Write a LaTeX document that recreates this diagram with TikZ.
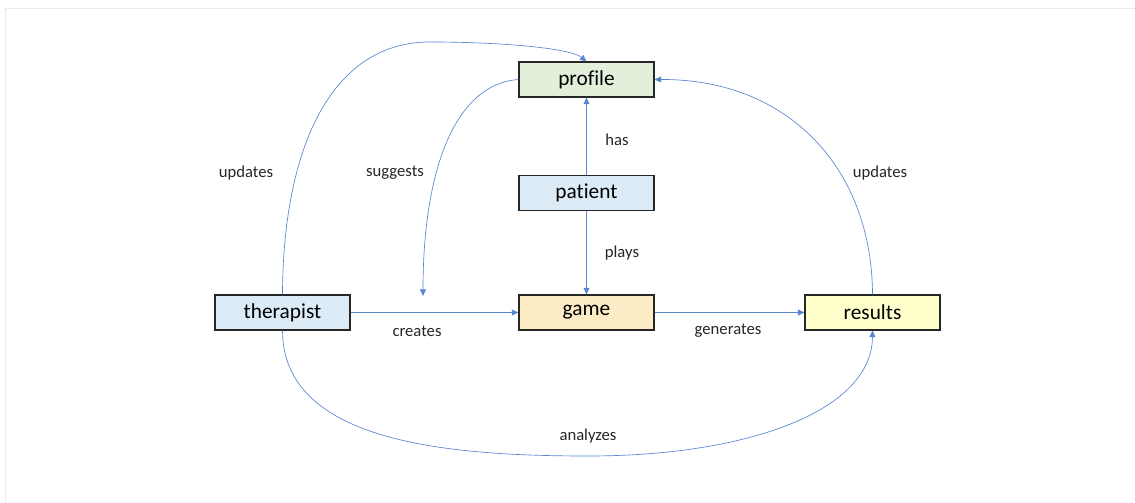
\documentclass[tikz,border=0pt]{standalone}
\usepackage{fontspec}
\setmainfont{Carlito}[Ligatures={NoCommon}]
\usepackage{tikz}
\usetikzlibrary{arrows.meta,positioning}
\definecolor{linkblue}{HTML}{5B86CF}
\definecolor{profgreen}{HTML}{E2EFDA}
\definecolor{persblue}{HTML}{DDEBF7}
\definecolor{gameorange}{HTML}{FCEBC4}
\definecolor{resyellow}{HTML}{FFFFCC}
\tikzset{
	entity/.style={draw=black!85, line width=0.8pt, minimum width=101.25pt, minimum height=26.25pt, inner sep=0pt, font=\fontsize{16}{18}\selectfont},
	rel/.style={font=\fontsize{12.5}{14}\selectfont, text=black!85}
}

\begin{document}
\begin{tikzpicture}[x=0.75pt, y=-0.75pt, ->, >={Triangle[length=5pt,width=4.5pt]}, line width=0.5pt]
	\useasboundingbox (0,0) rectangle (1135,503);
	\draw[-, black!8] (5,503) -- (5,8) -- (1135,8);
	\node [entity, fill=profgreen] (profile) at (586.5,79.5) {profile};
	\node [entity, fill=persblue] (patient) at (586.5,193) {patient};
	\node [entity, fill=gameorange] (game) at (586.5,312.5) {game};
	\node [entity, fill=persblue] (therapist) at (282.5,312.5) {therapist};
	\node [entity, fill=resyellow] (results) at (872.5,312.5) {results};
	\coordinate (sugg) at (423,296);
	\node [rel] (updl) at (246,173) {updates};
	\node [rel] (suggests) at (395,173) {suggests};
	\node [rel] (has) at (617,140) {has};
	\node [rel] (plays) at (622,253) {plays};
	\node [rel] (creates) at (417,331) {creates};
	\node [rel] (generates) at (728,331) {generates};
	\node [rel] (updr) at (880,173) {updates};
	\node [rel] (analyzes) at (588,436) {analyzes};
	\draw[linkblue] (patient) -- (profile);
	\draw[linkblue] (patient) -- (game);
	\draw[linkblue] (therapist) -- (game);
	\draw[linkblue] (game) -- (results);
	\draw[linkblue] (therapist.north) .. controls (283,150) and (330,42) .. (430,42) .. controls (500,42) and (570,48) .. (profile.north);
	\draw[linkblue] (profile.west) .. controls (455,84) and (423,170) .. (sugg);
	\draw[linkblue] (results.north) .. controls (872,170) and (790,79) .. (profile.east);
	\draw[linkblue] (therapist.south) .. controls (283,440) and (440,456) .. (588,456) .. controls (750,456) and (872,410) .. (results.south);
\end{tikzpicture}
\end{document}
